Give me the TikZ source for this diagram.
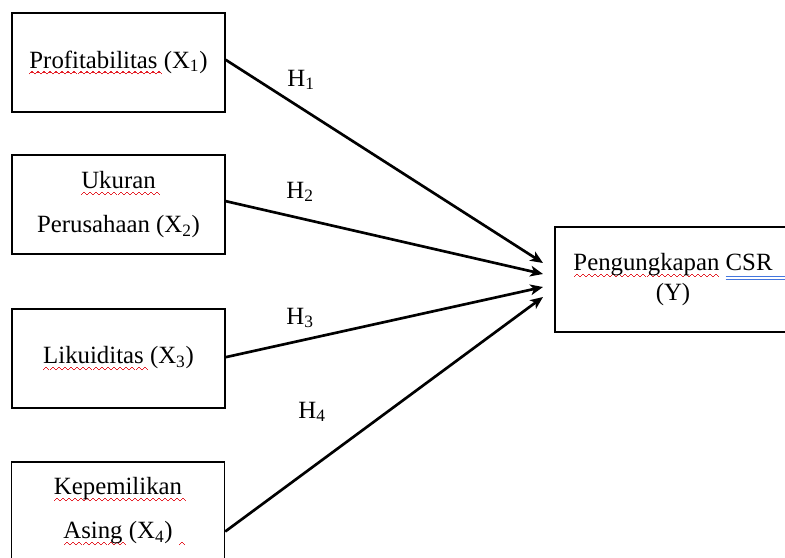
\documentclass[tikz,border=0pt]{standalone}
\usepackage{fontspec}
\setmainfont{Liberation Serif}
\usetikzlibrary{arrows.meta}
\definecolor{squigred}{RGB}{228,32,40}
\definecolor{uublue}{RGB}{68,118,222}
% spell-check marks
\newcommand\wavecell{\hbox{\rule[-4.7pt]{.75pt}{.9pt}\rule[-4pt]{.75pt}{.9pt}\rule[-3.3pt]{.75pt}{.9pt}\rule[-3.3pt]{.75pt}{.9pt}\rule[-4pt]{.75pt}{.9pt}\rule[-4.7pt]{.75pt}{.9pt}}}
\newcommand\spellerr[2][0pt]{\setbox0\hbox{#2}\rlap{\color{squigred}\hbox to \dimexpr\wd0+#1\relax{\xleaders\wavecell\hfill}}\box0\relax}
\newcommand\csrline[2][0pt]{\setbox0\hbox{#2}\rlap{\color{uublue}\rule[-5pt]{\dimexpr\wd0+#1\relax}{.8pt}}\rlap{\color{uublue}\rule[-7pt]{\dimexpr\wd0+#1\relax}{.8pt}}\box0\relax}

\begin{document}
\begin{tikzpicture}[x=0.75pt,y=0.75pt,yscale=-1,xscale=1,
  every node/.style={font=\fontsize{18.6}{22.5}\selectfont},
  varbox/.style={draw,line width=1.1pt,minimum width=159.75pt,minimum height=74.25pt,align=center,inner sep=0pt},
  tall/.style={font=\fontsize{18.6}{33}\selectfont},
  hyp/.style={-{Stealth[length=9.5pt,width=8pt,inset=2.5pt]},line width=2pt},
  lbl/.style={inner sep=0pt}]
\useasboundingbox (0,0) rectangle (785,557);

%Shape: Rectangle
\node [varbox] (prof) at (118.5,62.5) {\spellerr[3pt]{Profitabilitas} (X\textsubscript{1})};
%Shape: Rectangle
\node [varbox,tall] (size) at (118.5,204.5) {\spellerr[3pt]{Ukuran}\\ Perusahaan (X\textsubscript{2})};
%Shape: Rectangle
\node [varbox] (liq) at (118.5,358.5) {\spellerr[3pt]{Likuiditas} (X\textsubscript{3})};
%Shape: Rectangle
\node [varbox,tall] (own) at (118,511.5) {\spellerr[3pt]{Kepemilikan}\\ \spellerr[3pt]{Asing} (X\textsubscript{4})\rlap{\kern4pt\spellerr{\hbox to 6pt{}}}};
%Shape: Rectangle
\node [varbox,minimum width=177pt,minimum height=78.75pt] (csr) at (673,279.5) {\spellerr{Pengungkapan} \csrline[14pt]{CSR}\\ (Y)};

% arrow ends
\coordinate (t1) at (543,263);
\coordinate (t2) at (543,274);
\coordinate (t3) at (543,287);
\coordinate (t4) at (543,297);

%Straight Lines
\draw [hyp] ([yshift=-2pt]prof.east) -- (t1);
\draw [hyp] ([yshift=-2.5pt]size.east) -- (t2);
\draw [hyp] ([yshift=-1pt]liq.east) -- (t3);
\draw [hyp] ([yshift=15pt]own.east) -- (t4);

% Text Node
\node [lbl] (h1) at (301,80) {H\textsubscript{1}};
% Text Node
\node [lbl] (h2) at (300,192) {H\textsubscript{2}};
% Text Node
\node [lbl] (h3) at (300,318) {H\textsubscript{3}};
% Text Node
\node [lbl] (h4) at (312,412) {H\textsubscript{4}};

\end{tikzpicture}
\end{document}
